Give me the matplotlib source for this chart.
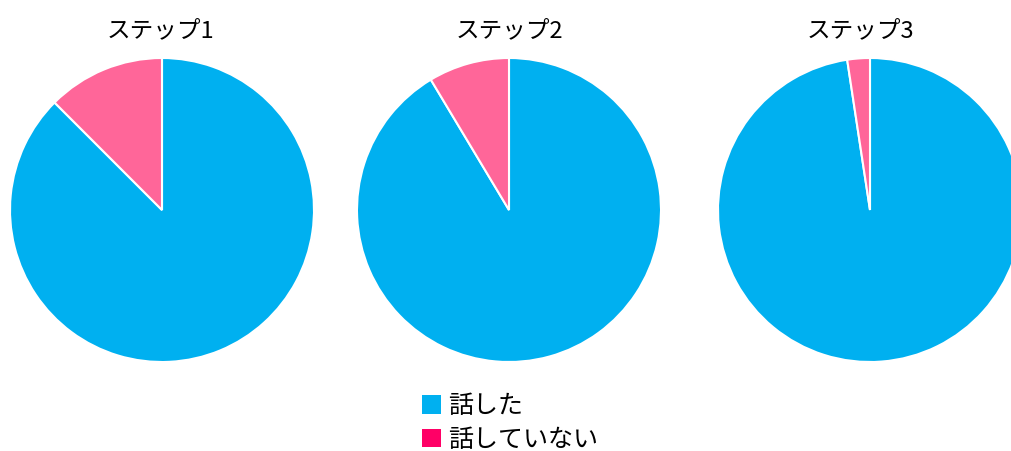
import matplotlib
matplotlib.use("Agg")
import matplotlib.pyplot as plt
from matplotlib.patches import Patch

plt.rcParams["font.family"] = ["Noto Sans CJK JP", "DejaVu Sans"]

steps = ["ステップ1", "ステップ2", "ステップ3"]
labels = ["話した", "話していない"]
talked = [87.5, 91.4, 97.6]
not_talked = [12.5, 8.6, 2.4]

pie_colors = ["#00B0F0", "#FF6699"]
legend_colors = ["#00B0F0", "#FF0066"]

W, H = 1011, 451
fig = plt.figure(figsize=(W / 100, H / 100), dpi=100)

# pie centres (pixels from left / top) and radius
centres_x = [162, 509, 870]
centre_y = 210
radius = 152
title_x = [160, 509, 860]

for i, step in enumerate(steps):
    cx = centres_x[i]
    ax = fig.add_axes([(cx - radius) / W, (H - centre_y - radius) / H,
                       2 * radius / W, 2 * radius / H])
    ax.pie([talked[i], not_talked[i]], colors=pie_colors, startangle=90,
           counterclock=False, radius=1.0,
           wedgeprops=dict(edgecolor="white", linewidth=1.5))
    ax.set_xlim(-1, 1)
    ax.set_ylim(-1, 1)
    ax.set_aspect("equal")
    ax.axis("off")
    fig.text(title_x[i] / W, 1 - 31 / H, step, ha="center", va="center",
             fontsize=17)

handles = [Patch(facecolor=c, edgecolor="none") for c in legend_colors]
fig.legend(handles, labels, loc="center", bbox_to_anchor=(510 / W, 1 - 423 / H),
           frameon=False, fontsize=18, handlelength=0.75, handleheight=0.75,
           handletextpad=0.3, labelspacing=0.3, borderpad=0)

fig.savefig("out.png", dpi=100)
